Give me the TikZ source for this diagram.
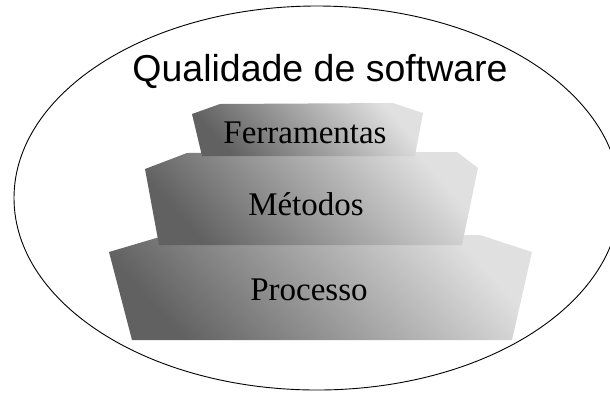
\documentclass[tikz,border=0pt]{standalone}
\usepackage{fontspec}
\setmainfont{Liberation Serif}
\newfontfamily\arialfont{Liberation Sans}

\tikzset{
    layer/.style = {top color = black!12, bottom color = black!62, shading angle = -48},
    layertext/.style = {anchor = base, inner sep = 0pt, font = \fontsize{33}{33}\selectfont}
}

\begin{document}
\begin{tikzpicture}[x = 1pt, y = -1pt]
    \useasboundingbox (0,0) rectangle (610,392);
    \draw[line width = 0.9pt] (317,198) ellipse [x radius = 303, y radius = 192];
    \node[anchor = base, inner sep = 0pt, font = \arialfont\fontsize{37.5}{37.5}\selectfont]
        (titulo) at (320,81) {Qualidade de software};
    % camadas, de baixo para cima
    \shade[layer] (109,252) -- (163,236) -- (480,235) -- (532,252) -- (512,340) -- (132,340) -- cycle;
    \shade[layer] (145,169) -- (187,153) -- (457,152) -- (478,168) -- (462,245) -- (159,245) -- cycle;
    \shade[layer] (192,114) -- (220,104) -- (393,103) -- (423,113) -- (415,156) -- (202,156) -- cycle;
    \node[layertext] (processo) at (309,300) {Processo};
    \node[layertext] (metodos) at (306,215) {Métodos};
    \node[layertext] (ferramentas) at (305,143) {Ferramentas};
\end{tikzpicture}
\end{document}
